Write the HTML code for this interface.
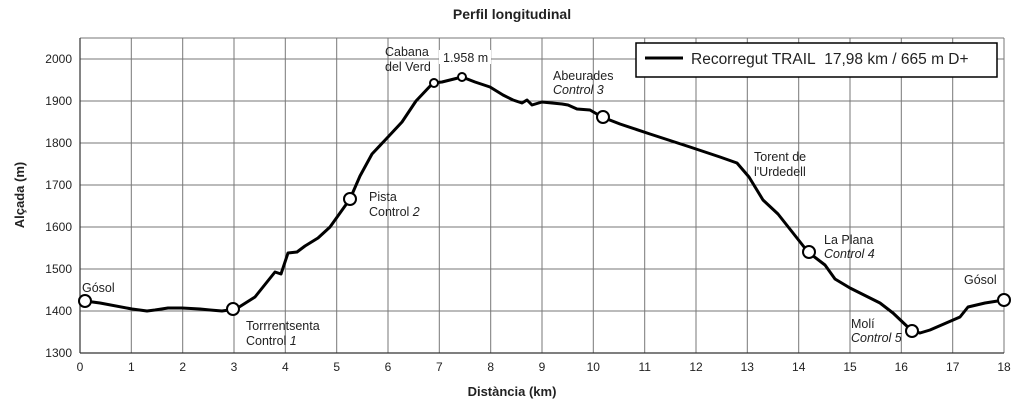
<!DOCTYPE html>
<html><head><meta charset="utf-8"><style>
body{margin:0;background:#fff}
svg text{font-family:"Liberation Sans",Arial,sans-serif;fill:#222}
</style></head><body>
<svg width="1024" height="405" viewBox="0 0 1024 405" xmlns="http://www.w3.org/2000/svg">
<text x="512" y="19" text-anchor="middle" font-size="14" font-weight="bold">Perfil longitudinal</text>
<g stroke="#777" stroke-width="1">
<line x1="80" y1="38" x2="1004" y2="38"/><line x1="1004" y1="38" x2="1004" y2="353"/>
<line x1="80" y1="59" x2="1004" y2="59"/><line x1="80" y1="101" x2="1004" y2="101"/>
<line x1="80" y1="143" x2="1004" y2="143"/><line x1="80" y1="185" x2="1004" y2="185"/>
<line x1="80" y1="227" x2="1004" y2="227"/><line x1="80" y1="269" x2="1004" y2="269"/>
<line x1="80" y1="311" x2="1004" y2="311"/>
<line x1="131.3" y1="38" x2="131.3" y2="353"/><line x1="182.7" y1="38" x2="182.7" y2="353"/>
<line x1="234" y1="38" x2="234" y2="353"/><line x1="285.3" y1="38" x2="285.3" y2="353"/>
<line x1="336.7" y1="38" x2="336.7" y2="353"/><line x1="388" y1="38" x2="388" y2="353"/>
<line x1="439.3" y1="38" x2="439.3" y2="353"/><line x1="490.7" y1="38" x2="490.7" y2="353"/>
<line x1="542" y1="38" x2="542" y2="353"/><line x1="593.3" y1="38" x2="593.3" y2="353"/>
<line x1="644.7" y1="38" x2="644.7" y2="353"/><line x1="696" y1="38" x2="696" y2="353"/>
<line x1="747.3" y1="38" x2="747.3" y2="353"/><line x1="798.7" y1="38" x2="798.7" y2="353"/>
<line x1="850" y1="38" x2="850" y2="353"/><line x1="901.3" y1="38" x2="901.3" y2="353"/>
<line x1="952.7" y1="38" x2="952.7" y2="353"/>
</g>
<g stroke="#333" stroke-width="1.2"><line x1="80" y1="38" x2="80" y2="353"/><line x1="80" y1="353" x2="1004" y2="353"/></g>
<g font-size="12" text-anchor="end">
<text x="72" y="63">2000</text><text x="72" y="105">1900</text><text x="72" y="147">1800</text>
<text x="72" y="189">1700</text><text x="72" y="231">1600</text><text x="72" y="273">1500</text>
<text x="72" y="315">1400</text><text x="72" y="357">1300</text></g>
<g font-size="12" text-anchor="middle">
<text x="80" y="371">0</text><text x="131.3" y="371">1</text><text x="182.7" y="371">2</text><text x="234" y="371">3</text>
<text x="285.3" y="371">4</text><text x="336.7" y="371">5</text><text x="388" y="371">6</text><text x="439.3" y="371">7</text>
<text x="490.7" y="371">8</text><text x="542" y="371">9</text><text x="593.3" y="371">10</text><text x="644.7" y="371">11</text>
<text x="696" y="371">12</text><text x="747.3" y="371">13</text><text x="798.7" y="371">14</text><text x="850" y="371">15</text>
<text x="901.3" y="371">16</text><text x="952.7" y="371">17</text><text x="1004" y="371">18</text></g>
<text x="512" y="396" text-anchor="middle" font-size="13" font-weight="bold">Distància (km)</text>
<text transform="translate(24,195) rotate(-90)" text-anchor="middle" font-size="13" font-weight="bold">Alçada (m)</text>
<polyline fill="none" stroke="#000" stroke-width="3" stroke-linejoin="round" points="85,301 100,303 132,309 147,311 155,310 168,308 182,308 200,309 210,310 222,311 236,309 255,297 275,272 281,274 288,253 297,252 305,246 318,238 330,227 340,213 350,199 360,176 372,154 388,137 402,122 416,101 433,83 442,82 462,77 475,82 490,87 503,95 513,100 522,103 527,100 532,105 542,102 562,104 568,105 577,109 590,110 602,117 620,124 650,134 690,147 720,157 737,163 749,177 763,200 778,214 808,252 825,265 835,279 850,288 880,303 893,313 912,331 920,333 930,330 960,317 968,307 985,303 1004,300"/>
<g fill="#fff" stroke="#000" stroke-width="2">
<circle cx="85" cy="301" r="6"/><circle cx="233" cy="309" r="6"/><circle cx="350" cy="199" r="6"/>
<circle cx="603" cy="117" r="6"/><circle cx="809" cy="252" r="6"/><circle cx="912" cy="331" r="6"/>
<circle cx="1004" cy="300" r="6"/><circle cx="434" cy="83" r="4"/><circle cx="462" cy="77" r="4"/></g>
<g font-size="12.5">
<text x="82" y="292">Gósol</text>
<text x="246" y="330">Torrrentsenta</text><text x="246" y="345">Control <tspan font-style="italic">1</tspan></text>
<text x="369" y="201">Pista</text><text x="369" y="216">Control <tspan font-style="italic">2</tspan></text>
<text x="385" y="56">Cabana</text><text x="385" y="71">del Verd</text>
<rect x="439" y="50" width="52" height="14" fill="#fff"/><text x="443" y="62">1.958 m</text>
<text x="553" y="80">Abeurades</text><text x="553" y="94" font-style="italic">Control 3</text>
<text x="754" y="161">Torent de</text><text x="754" y="176">l'Urdedell</text>
<text x="824" y="244">La Plana</text><text x="824" y="258" font-style="italic">Control 4</text>
<text x="851" y="328">Molí</text><text x="851" y="342" font-style="italic">Control 5</text>
<text x="964" y="284">Gósol</text></g>
<rect x="636" y="43" width="361" height="34" fill="#fff" stroke="#000" stroke-width="1.5"/>
<line x1="645" y1="58" x2="683" y2="58" stroke="#000" stroke-width="3"/>
<text x="691" y="64" font-size="15.5">Recorregut TRAIL&#160; 17,98 km / 665 m D+</text>
</svg>
</body></html>
